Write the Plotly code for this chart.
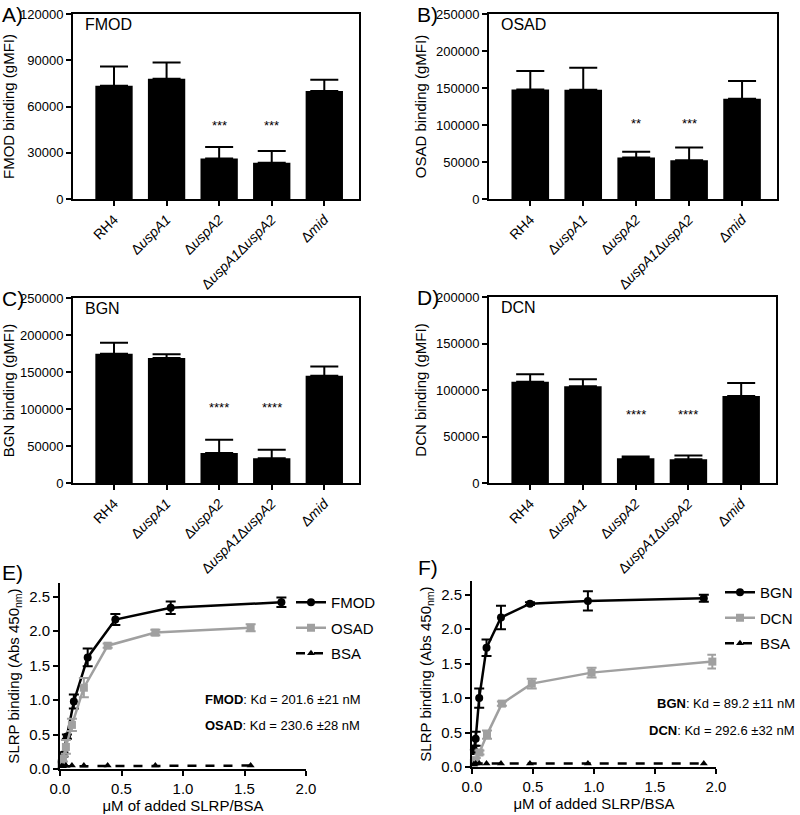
import plotly.graph_objects as go

# ---------------- data ----------------
strains = ["RH4", "Δ<i>uspA1</i>", "Δ<i>uspA2</i>", "Δ<i>uspA1</i>Δ<i>uspA2</i>", "Δ<i>mid</i>"]

fmod_mean = [73500, 78000, 26300, 23500, 70000]
fmod_err = [12500, 10500, 7500, 7700, 7300]
fmod_sig = ["", "", "***", "***", ""]

osad_mean = [148000, 147500, 56000, 52500, 135500]
osad_err = [25000, 30000, 8000, 17000, 24000]
osad_sig = ["", "", "**", "***", ""]

bgn_mean = [174500, 169000, 40500, 33500, 145000]
bgn_err = [15000, 5000, 18000, 11500, 12500]
bgn_sig = ["", "", "****", "****", ""]

dcn_mean = [109000, 104000, 26500, 25500, 93500]
dcn_err = [8000, 7500, 2000, 4000, 14000]
dcn_sig = ["", "", "****", "****", ""]

# panel E (ELISA)
e_fmod_x = [0.014, 0.028, 0.056, 0.1125, 0.225, 0.45, 0.9, 1.8]
e_fmod_y = [0.10, 0.21, 0.47, 0.98, 1.62, 2.17, 2.34, 2.42]
e_fmod_e = [0.02, 0.03, 0.03, 0.10, 0.13, 0.08, 0.09, 0.07]
e_osad_x = [0.012, 0.024, 0.048, 0.097, 0.194, 0.3875, 0.775, 1.55]
e_osad_y = [0.08, 0.15, 0.32, 0.64, 1.18, 1.79, 1.98, 2.05]
e_osad_e = [0.02, 0.04, 0.10, 0.09, 0.14, 0.03, 0.04, 0.05]
e_bsa_x = [0.012, 0.024, 0.048, 0.097, 0.194, 0.3875, 0.775, 1.55]
e_bsa_y = [0.04, 0.04, 0.05, 0.05, 0.05, 0.05, 0.05, 0.05]

# panel F (ELISA)
f_bgn_x = [0.015, 0.03, 0.059, 0.119, 0.2375, 0.475, 0.95, 1.9]
f_bgn_y = [0.25, 0.41, 1.00, 1.73, 2.17, 2.37, 2.41, 2.45]
f_bgn_e = [0.06, 0.10, 0.14, 0.12, 0.17, 0.02, 0.14, 0.05]
f_dcn_x = [0.015, 0.031, 0.061, 0.123, 0.245, 0.49, 0.98, 1.97]
f_dcn_y = [0.06, 0.10, 0.21, 0.47, 0.92, 1.21, 1.37, 1.53]
f_dcn_e = [0.02, 0.03, 0.03, 0.06, 0.03, 0.07, 0.07, 0.10]
f_bsa_x = [0.015, 0.03, 0.059, 0.119, 0.2375, 0.475, 0.95, 1.9]
f_bsa_y = [0.04, 0.05, 0.05, 0.05, 0.05, 0.05, 0.05, 0.05]

kd_e = ["<b>FMOD</b>: Kd = 201.6 ±21 nM", "<b>OSAD</b>: Kd = 230.6 ±28 nM"]
kd_f = ["<b>BGN</b>: Kd = 89.2 ±11 nM", "<b>DCN</b>: Kd = 292.6 ±32 nM"]

# ---------------- figure ----------------
W, H = 800, 815
FONT = "Liberation Sans, Arial, Helvetica, sans-serif"
GRAY = "#a0a0a0"


def px_x(p):
    return p / W


def px_y(p):
    return 1 - p / H


fig = go.Figure()

bar_panels = [
    (fmod_mean, fmod_err, fmod_sig, "FMOD", 1, (73, 359), (14, 199), 120000, 30000, 47500),
    (osad_mean, osad_err, osad_sig, "OSAD", 2, (489, 777), (14, 199), 250000, 50000, 102500),
    (bgn_mean, bgn_err, bgn_sig, "BGN", 3, (73, 359), (298, 483), 250000, 50000, 102500),
    (dcn_mean, dcn_err, dcn_sig, "DCN", 4, (489, 776), (297, 483), 200000, 50000, 74000),
]

annotations = []

for mean, err, sig, name, k, dx, dy, ymax, dt, stary in bar_panels:
    xs = "x" if k == 1 else f"x{k}"
    ys = "y" if k == 1 else f"y{k}"
    fig.add_trace(go.Bar(
        x=strains, y=mean, xaxis=xs, yaxis=ys,
        marker=dict(color="black", line=dict(width=0)),
        width=0.71,
        error_y=dict(type="data", array=err, arrayminus=[0] * len(err), symmetric=False,
                     color="black", thickness=2, width=14),
        showlegend=False,
    ))
    axx = dict(domain=[px_x(dx[0]), px_x(dx[1])], anchor=ys, type="category",
               range=[-0.78, 4.66], showline=True, linewidth=2, linecolor="black",
               mirror=True, ticks="outside", ticklen=5, tickwidth=2, tickcolor="black",
               tickangle=-45, tickfont=dict(size=14, color="black"), showgrid=False,
               zeroline=False, automargin=False)
    axy = dict(domain=[px_y(dy[1]), px_y(dy[0])], anchor=xs, range=[0, ymax],
               tick0=0, dtick=dt, tickformat="d", showline=True, linewidth=2,
               linecolor="black", mirror=True, ticks="outside", ticklen=5, tickwidth=2,
               tickcolor="black", tickfont=dict(size=13, color="black"), showgrid=False,
               zeroline=False, automargin=False,
               title=dict(text=f"{name} binding (gMFI)", font=dict(size=15, color="black"),
                          standoff=6))
    fig.layout[f"xaxis{'' if k == 1 else k}"] = axx
    fig.layout[f"yaxis{'' if k == 1 else k}"] = axy
    annotations.append(dict(x=px_x(dx[0] + 10), y=px_y(dy[0] + 10), xref="paper", yref="paper",
                            text=name, showarrow=False, xanchor="left", yanchor="middle",
                            font=dict(size=16, color="black")))
    for s, c in zip(sig, strains):
        if s:
            annotations.append(dict(x=c, y=stary, xref=xs, yref=ys, text=s, showarrow=False,
                                    xanchor="center", yanchor="middle",
                                    font=dict(size=13, color="black")))

# ---- line panels ----
line_panels = [
    (5, (60, 306), (583, 769), "legend",
     [("FMOD", e_fmod_x, e_fmod_y, e_fmod_e, "black", "circle", "solid"),
      ("OSAD", e_osad_x, e_osad_y, e_osad_e, GRAY, "square", "solid"),
      ("BSA", e_bsa_x, e_bsa_y, None, "black", "triangle-up", "dash")]),
    (6, (472, 716), (581, 767), "legend2",
     [("BGN", f_bgn_x, f_bgn_y, f_bgn_e, "black", "circle", "solid"),
      ("DCN", f_dcn_x, f_dcn_y, f_dcn_e, GRAY, "square", "solid"),
      ("BSA", f_bsa_x, f_bsa_y, None, "black", "triangle-up", "dash")]),
]

for k, dx, dy, leg, series in line_panels:
    xs, ys = f"x{k}", f"y{k}"
    for i, (nm, x, y, e, col, sym, dash) in enumerate(series):
        tr = go.Scatter(
            x=x, y=y, xaxis=xs, yaxis=ys, name=nm, mode="lines+markers",
            line=dict(color=col, width=2.5, dash=dash),
            marker=dict(color=col, symbol=sym, size=8 if sym != "triangle-up" else 7),
            legend=leg, legendgroup=f"{leg}{i}", cliponaxis=False,
        )
        if e is not None:
            tr.error_y = dict(type="data", array=e, color=col, thickness=2, width=5)
        fig.add_trace(tr)
    fig.layout[f"xaxis{k}"] = dict(
        domain=[px_x(dx[0]), px_x(dx[1])], anchor=ys, range=[0, 2.0], tick0=0, dtick=0.5,
        tickformat=".1f", showline=True, linewidth=2, linecolor="black", ticks="outside",
        ticklen=5, tickwidth=2, tickcolor="black", tickfont=dict(size=15, color="black"),
        showgrid=False, zeroline=False, automargin=False,
        title=dict(text="μM of added SLRP/BSA", font=dict(size=15, color="black"), standoff=4))
    fig.layout[f"yaxis{k}"] = dict(
        domain=[px_y(dy[1]), px_y(dy[0])], anchor=xs, range=[0, 2.7], tick0=0, dtick=0.5,
        tickformat=".1f", showline=True, linewidth=2, linecolor="black", ticks="outside",
        ticklen=5, tickwidth=2, tickcolor="black", tickfont=dict(size=15, color="black"),
        showgrid=False, zeroline=False, automargin=False,
        title=dict(text="SLRP binding (Abs 450<sub>nm</sub>)", font=dict(size=15, color="black"),
                   standoff=6))

legend_style = dict(font=dict(size=15, color="black", family=FONT), bgcolor="rgba(0,0,0,0)",
                    xanchor="left", yanchor="top", traceorder="grouped", tracegroupgap=3,
                    itemwidth=30)
fig.layout.legend = dict(x=px_x(291), y=px_y(586), **legend_style)
fig.layout.legend2 = dict(x=px_x(720), y=px_y(576), **legend_style)

for i, t in enumerate(kd_e):
    annotations.append(dict(x=px_x(203), y=px_y(699 + 26 * i), xref="paper", yref="paper",
                            text=t, showarrow=False, xanchor="left", yanchor="middle",
                            font=dict(size=13, color="black")))
for i, t in enumerate(kd_f):
    annotations.append(dict(x=px_x(797), y=px_y(703 + 27 * i), xref="paper", yref="paper",
                            text=t, showarrow=False, xanchor="right", yanchor="middle",
                            font=dict(size=13, color="black")))

for letter, (lx, ly) in zip(["A)", "B)", "C)", "D)", "E)", "F)"],
                            [(0, 14), (415, 14), (0, 298), (415, 297), (0, 572), (416, 567)]):
    annotations.append(dict(x=px_x(lx), y=px_y(ly), xref="paper", yref="paper",
                            text=letter, showarrow=False, xanchor="left", yanchor="middle",
                            font=dict(size=21, color="black")))

fig.update_layout(
    width=W, height=H, margin=dict(l=0, r=0, t=0, b=0),
    paper_bgcolor="white", plot_bgcolor="white",
    font=dict(family=FONT, color="black"),
    annotations=annotations,
)

# remove the default 8px page margin so the figure fills the window exactly
fig.write_html("out.html", config={"displayModeBar": False},
               post_script="document.body.style.margin='0px';")
